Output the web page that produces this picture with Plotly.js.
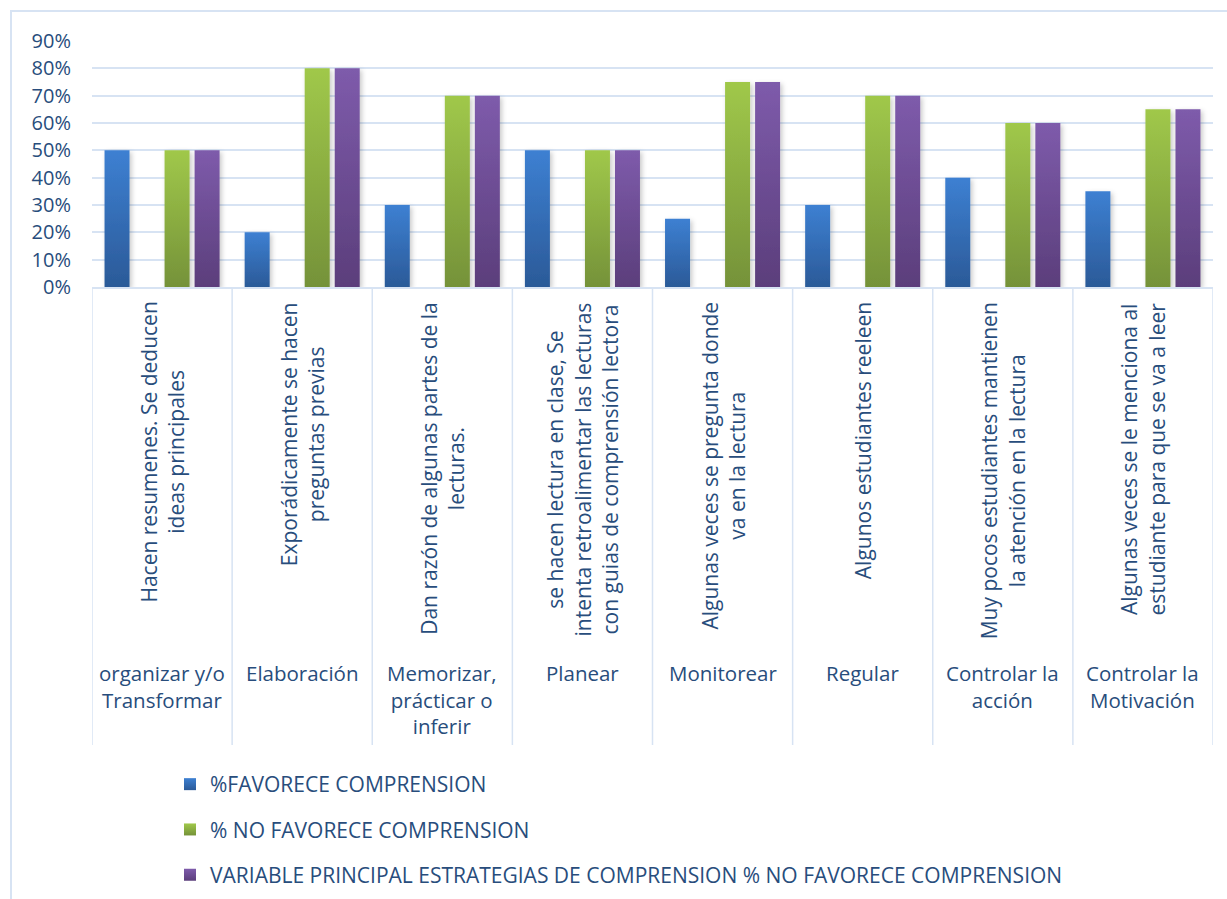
<!DOCTYPE html>
<html>
<head>
<meta charset="utf-8">
<script src="https://cdn.plot.ly/plotly-3.0.1.min.js"></script>
<style>
  html, body { margin: 0; padding: 0; background: #ffffff; }
  #chart { width: 1227px; height: 899px; }
</style>
</head>
<body>
<div id="chart"></div>
<script>
// ---- data ----
const groups = [
  "organizar y/o<br>Transformar",
  "Elaboración",
  "Memorizar,<br>prácticar o<br>inferir",
  "Planear",
  "Monitorear",
  "Regular",
  "Controlar la<br>acción",
  "Controlar la<br>Motivación"
];
const subLabels = [
  "Hacen resumenes. Se deducen<br>ideas principales",
  "Exporádicamente se hacen<br>preguntas previas",
  "Dan razón de algunas partes de la<br>lecturas.",
  "se hacen lectura en clase, Se<br>intenta retroalimentar las lecturas<br>con guias de comprensión lectora",
  "Algunas veces se pregunta donde<br>va en la lectura",
  "Algunos estudiantes reeleen",
  "Muy pocos estudiantes mantienen<br>la atención en la lectura",
  "Algunas veces se le menciona al<br>estudiante para que se va a leer"
];
const categories = ["c1","c2","c3","c4","c5","c6","c7","c8"];
const seriesNames = [
  "%FAVORECE COMPRENSION",
  "",
  "% NO FAVORECE COMPRENSION",
  "VARIABLE PRINCIPAL ESTRATEGIAS DE COMPRENSION % NO FAVORECE COMPRENSION"
];
const favorece =   [50, 20, 30, 50, 25, 30, 40, 35];
const emptySeries = [null, null, null, null, null, null, null, null];
const noFavorece = [50, 80, 70, 50, 75, 70, 60, 65];
const variablePrincipal = [50, 80, 70, 50, 75, 70, 60, 65];
const yTicks = [0, 10, 20, 30, 40, 50, 60, 70, 80, 90];
const yTickText = ["0%", "10%", "20%", "30%", "40%", "50%", "60%", "70%", "80%", "90%"];

// ---- styles ----
const textColor = "#284d7c";
const gridColor = "#d7e3f3";
const font = "'Open Sans', Lato, sans-serif";
const baseColors = ["#3473bd", "rgba(0,0,0,0)", "#8bad42", "#6d4f97"];
const gradStops = [
  ["#3d80d2", "#2b5a98"],
  null,
  ["#a0c84a", "#759239"],
  ["#7e5bab", "#5b3e7b"]
];

const allSeries = [favorece, emptySeries, noFavorece, variablePrincipal];
const traces = allSeries.map((vals, i) => ({
  type: "bar",
  name: seriesNames[i],
  x: categories,
  y: vals,
  marker: { color: baseColors[i], line: { width: 0 } },
  showlegend: i !== 1,
  legendgroup: "g" + i,
  hoverinfo: "y+name"
}));

// plot area geometry (pixels)
const W = 1227, H = 899;
const mL = 92, mR = 14, mT = 41, mB = 612;
const plotH = H - mT - mB;
const plotW = W - mL - mR;
const py = px => (H - mB - px) / plotH;   // pixel y -> paper y
const pxx = px => (px - mL) / plotW;      // pixel x -> paper x

const annotations = [];
categories.forEach((c, i) => {
  annotations.push({
    xref: "x", yref: "paper", x: c, y: py(300),
    xanchor: "center", yanchor: "top",
    text: subLabels[i], textangle: -90, showarrow: false, align: "center",
    font: { family: font, size: 21, color: textColor }
  });
  annotations.push({
    xref: "x", yref: "paper", x: c, y: py(657),
    xanchor: "center", yanchor: "top",
    text: groups[i], showarrow: false, align: "center",
    font: { family: font, size: 20.5, color: textColor }
  });
});

const shapes = [];
for (let i = 0; i <= categories.length; i++) {
  shapes.push({
    type: "line", xref: "x", yref: "paper",
    x0: i - 0.5, x1: i - 0.5, y0: 0, y1: py(745),
    line: { color: gridColor, width: 1.5 }
  });
}
// outer chart border
shapes.push({
  type: "rect", xref: "paper", yref: "paper",
  x0: pxx(11), x1: pxx(1260), y0: py(940), y1: py(11),
  line: { color: gridColor, width: 2 }, fillcolor: "rgba(0,0,0,0)", layer: "below"
});

const layout = {
  width: W, height: H,
  margin: { l: mL, r: mR, t: mT, b: mB, autoexpand: false },
  paper_bgcolor: "#ffffff", plot_bgcolor: "#ffffff",
  barmode: "group", bargap: 0.143, bargroupgap: 0.167,
  font: { family: font, color: textColor },
  xaxis: {
    type: "category", range: [-0.5, 7.5], showticklabels: false,
    showgrid: false, zeroline: false, showline: true,
    linecolor: gridColor, linewidth: 2, ticks: "", fixedrange: true
  },
  yaxis: {
    range: [0, 90], tickmode: "array", tickvals: yTicks, ticktext: yTickText,
    showgrid: true, gridcolor: gridColor, gridwidth: 2,
    zeroline: false, showline: false, ticks: "", ticklabelstandoff: 20,
    tickfont: { family: font, size: 20, color: textColor }, fixedrange: true
  },
  showlegend: true,
  legend: {
    x: pxx(170), y: py(764), xanchor: "left", yanchor: "top",
    orientation: "v", traceorder: "grouped", tracegroupgap: 15,
    font: { family: font, size: 21, color: textColor },
    bgcolor: "rgba(0,0,0,0)"
  },
  annotations: annotations,
  shapes: shapes
};

const gd = document.getElementById("chart");
Plotly.newPlot(gd, traces, layout, { displayModeBar: false, staticPlot: true }).then(() => {
  const svg = gd.querySelector("svg.main-svg");
  const NS = "http://www.w3.org/2000/svg";
  let defs = svg.querySelector("defs");
  if (!defs) { defs = document.createElementNS(NS, "defs"); svg.insertBefore(defs, svg.firstChild); }
  gradStops.forEach((st, i) => {
    if (!st) return;
    const g = document.createElementNS(NS, "linearGradient");
    g.setAttribute("id", "barGrad" + i);
    g.setAttribute("x1", "0"); g.setAttribute("y1", "0");
    g.setAttribute("x2", "0"); g.setAttribute("y2", "1");
    const s1 = document.createElementNS(NS, "stop");
    s1.setAttribute("offset", "0"); s1.setAttribute("stop-color", st[0]);
    const s2 = document.createElementNS(NS, "stop");
    s2.setAttribute("offset", "1"); s2.setAttribute("stop-color", st[1]);
    g.appendChild(s1); g.appendChild(s2); defs.appendChild(g);
  });
  const f = document.createElementNS(NS, "filter");
  f.setAttribute("id", "barShadow");
  f.setAttribute("x", "-30%"); f.setAttribute("y", "-10%");
  f.setAttribute("width", "160%"); f.setAttribute("height", "130%");
  const ds = document.createElementNS(NS, "feDropShadow");
  ds.setAttribute("dx", "2"); ds.setAttribute("dy", "2");
  ds.setAttribute("stdDeviation", "2.5");
  ds.setAttribute("flood-color", "#000"); ds.setAttribute("flood-opacity", "0.22");
  f.appendChild(ds); defs.appendChild(f);

  const barTraces = gd.querySelectorAll("g.trace.bars");
  barTraces.forEach((tg, i) => {
    if (!gradStops[i]) return;
    tg.querySelectorAll("g.point path").forEach(p => {
      p.style.fill = "url(#barGrad" + i + ")";
      p.style.filter = "url(#barShadow)";
    });
  });
  const legendTraces = gd.querySelectorAll("g.legend g.traces");
  const shown = [0, 2, 3];
  legendTraces.forEach((lt, k) => {
    const i = shown[k];
    lt.querySelectorAll(".legendpoints path").forEach(p => {
      p.style.fill = "url(#barGrad" + i + ")";
    });
  });
});
</script>
</body>
</html>
